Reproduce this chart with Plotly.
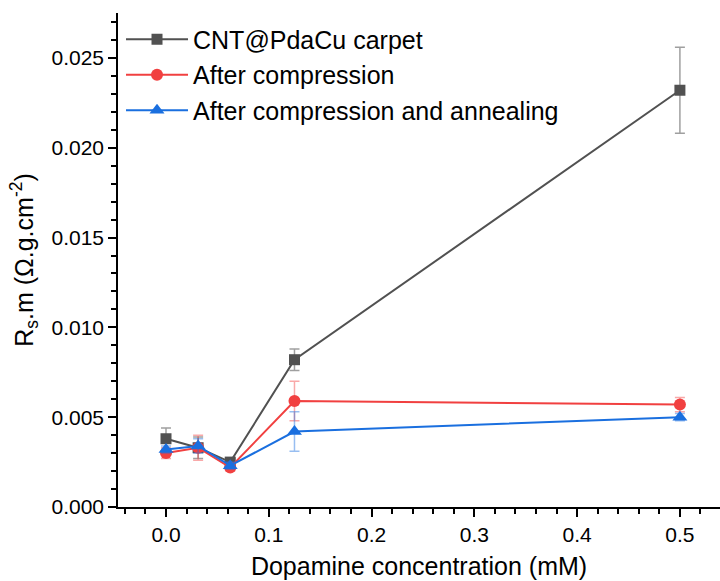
import plotly.graph_objects as go

# Dopamine concentration (mM)
conc = [0.0, 0.03125, 0.0625, 0.125, 0.5]

# Rs.m values (Ohm.g.cm^-2) and their standard deviations
carpet = [0.0038, 0.0033, 0.0025, 0.0082, 0.0232]
carpet_err = [0.0006, 0.0006, 0.0002, 0.0006, 0.0024]

compressed = [0.0030, 0.0033, 0.0022, 0.0059, 0.0057]
compressed_err = [0.0003, 0.0007, 0.0002, 0.0011, 0.0004]

annealed = [0.0032, 0.0034, 0.0023, 0.0042, 0.0050]
annealed_err = [0.0002, 0.0004, 0.0002, 0.0011, 0.0002]

series_names = ["CNT@PdaCu carpet", "After compression", "After compression and annealing"]

FONT = "Liberation Sans, Arial, sans-serif"

styles = [
    dict(color="#515151", err="rgba(81,81,81,0.55)", symbol="square", size=11),
    dict(color="#F14040", err="rgba(241,64,64,0.45)", symbol="circle", size=12),
    dict(color="#1A6FDF", err="rgba(26,111,223,0.45)", symbol="triangle-up", size=13),
]

fig = go.Figure()
for name, ys, errs, st in zip(series_names,
                              [carpet, compressed, annealed],
                              [carpet_err, compressed_err, annealed_err],
                              styles):
    fig.add_trace(go.Scatter(
        x=conc, y=ys, name=name, mode="lines+markers",
        line=dict(color=st["color"], width=2),
        marker=dict(color=st["color"], symbol=st["symbol"], size=st["size"]),
        error_y=dict(type="data", array=errs, visible=True,
                     color=st["err"], thickness=1.5, width=5),
    ))

axis_common = dict(
    showline=True, linecolor="black", linewidth=1.5,
    ticks="outside", tickcolor="black", tickwidth=1.5, ticklen=8,
    showgrid=False, zeroline=False, mirror=False,
    tickfont=dict(family=FONT, size=21, color="black"),
    minor=dict(ticks="outside", ticklen=5, tickcolor="black", tickwidth=1.5),
)

fig.update_layout(
    width=720, height=581,
    margin=dict(l=118, r=0, t=13, b=74),
    paper_bgcolor="white", plot_bgcolor="white",
    font=dict(family=FONT, color="black"),
    xaxis=dict(
        range=[-0.0467, 0.539], tickmode="linear", tick0=0, dtick=0.1,
        tickformat=".1f",
        title=dict(text="Dopamine concentration (mM)",
                   font=dict(family=FONT, size=25), standoff=13),
        **axis_common,
    ),
    yaxis=dict(
        range=[0, 0.0275], tickmode="linear", tick0=0, dtick=0.005,
        tickformat=".3f",
        title=dict(text="R<sub>s</sub>.m (Ω.g.cm<sup>-2</sup>)",
                   font=dict(family=FONT, size=25), standoff=11),
        **axis_common,
    ),
    legend=dict(
        x=0.005, y=0.993, xanchor="left", yanchor="top",
        bgcolor="rgba(0,0,0,0)", borderwidth=0,
        font=dict(family=FONT, size=25, color="black"),
        tracegroupgap=0, itemwidth=62,
    ),
    showlegend=True,
)

fig.write_html("out.html")
